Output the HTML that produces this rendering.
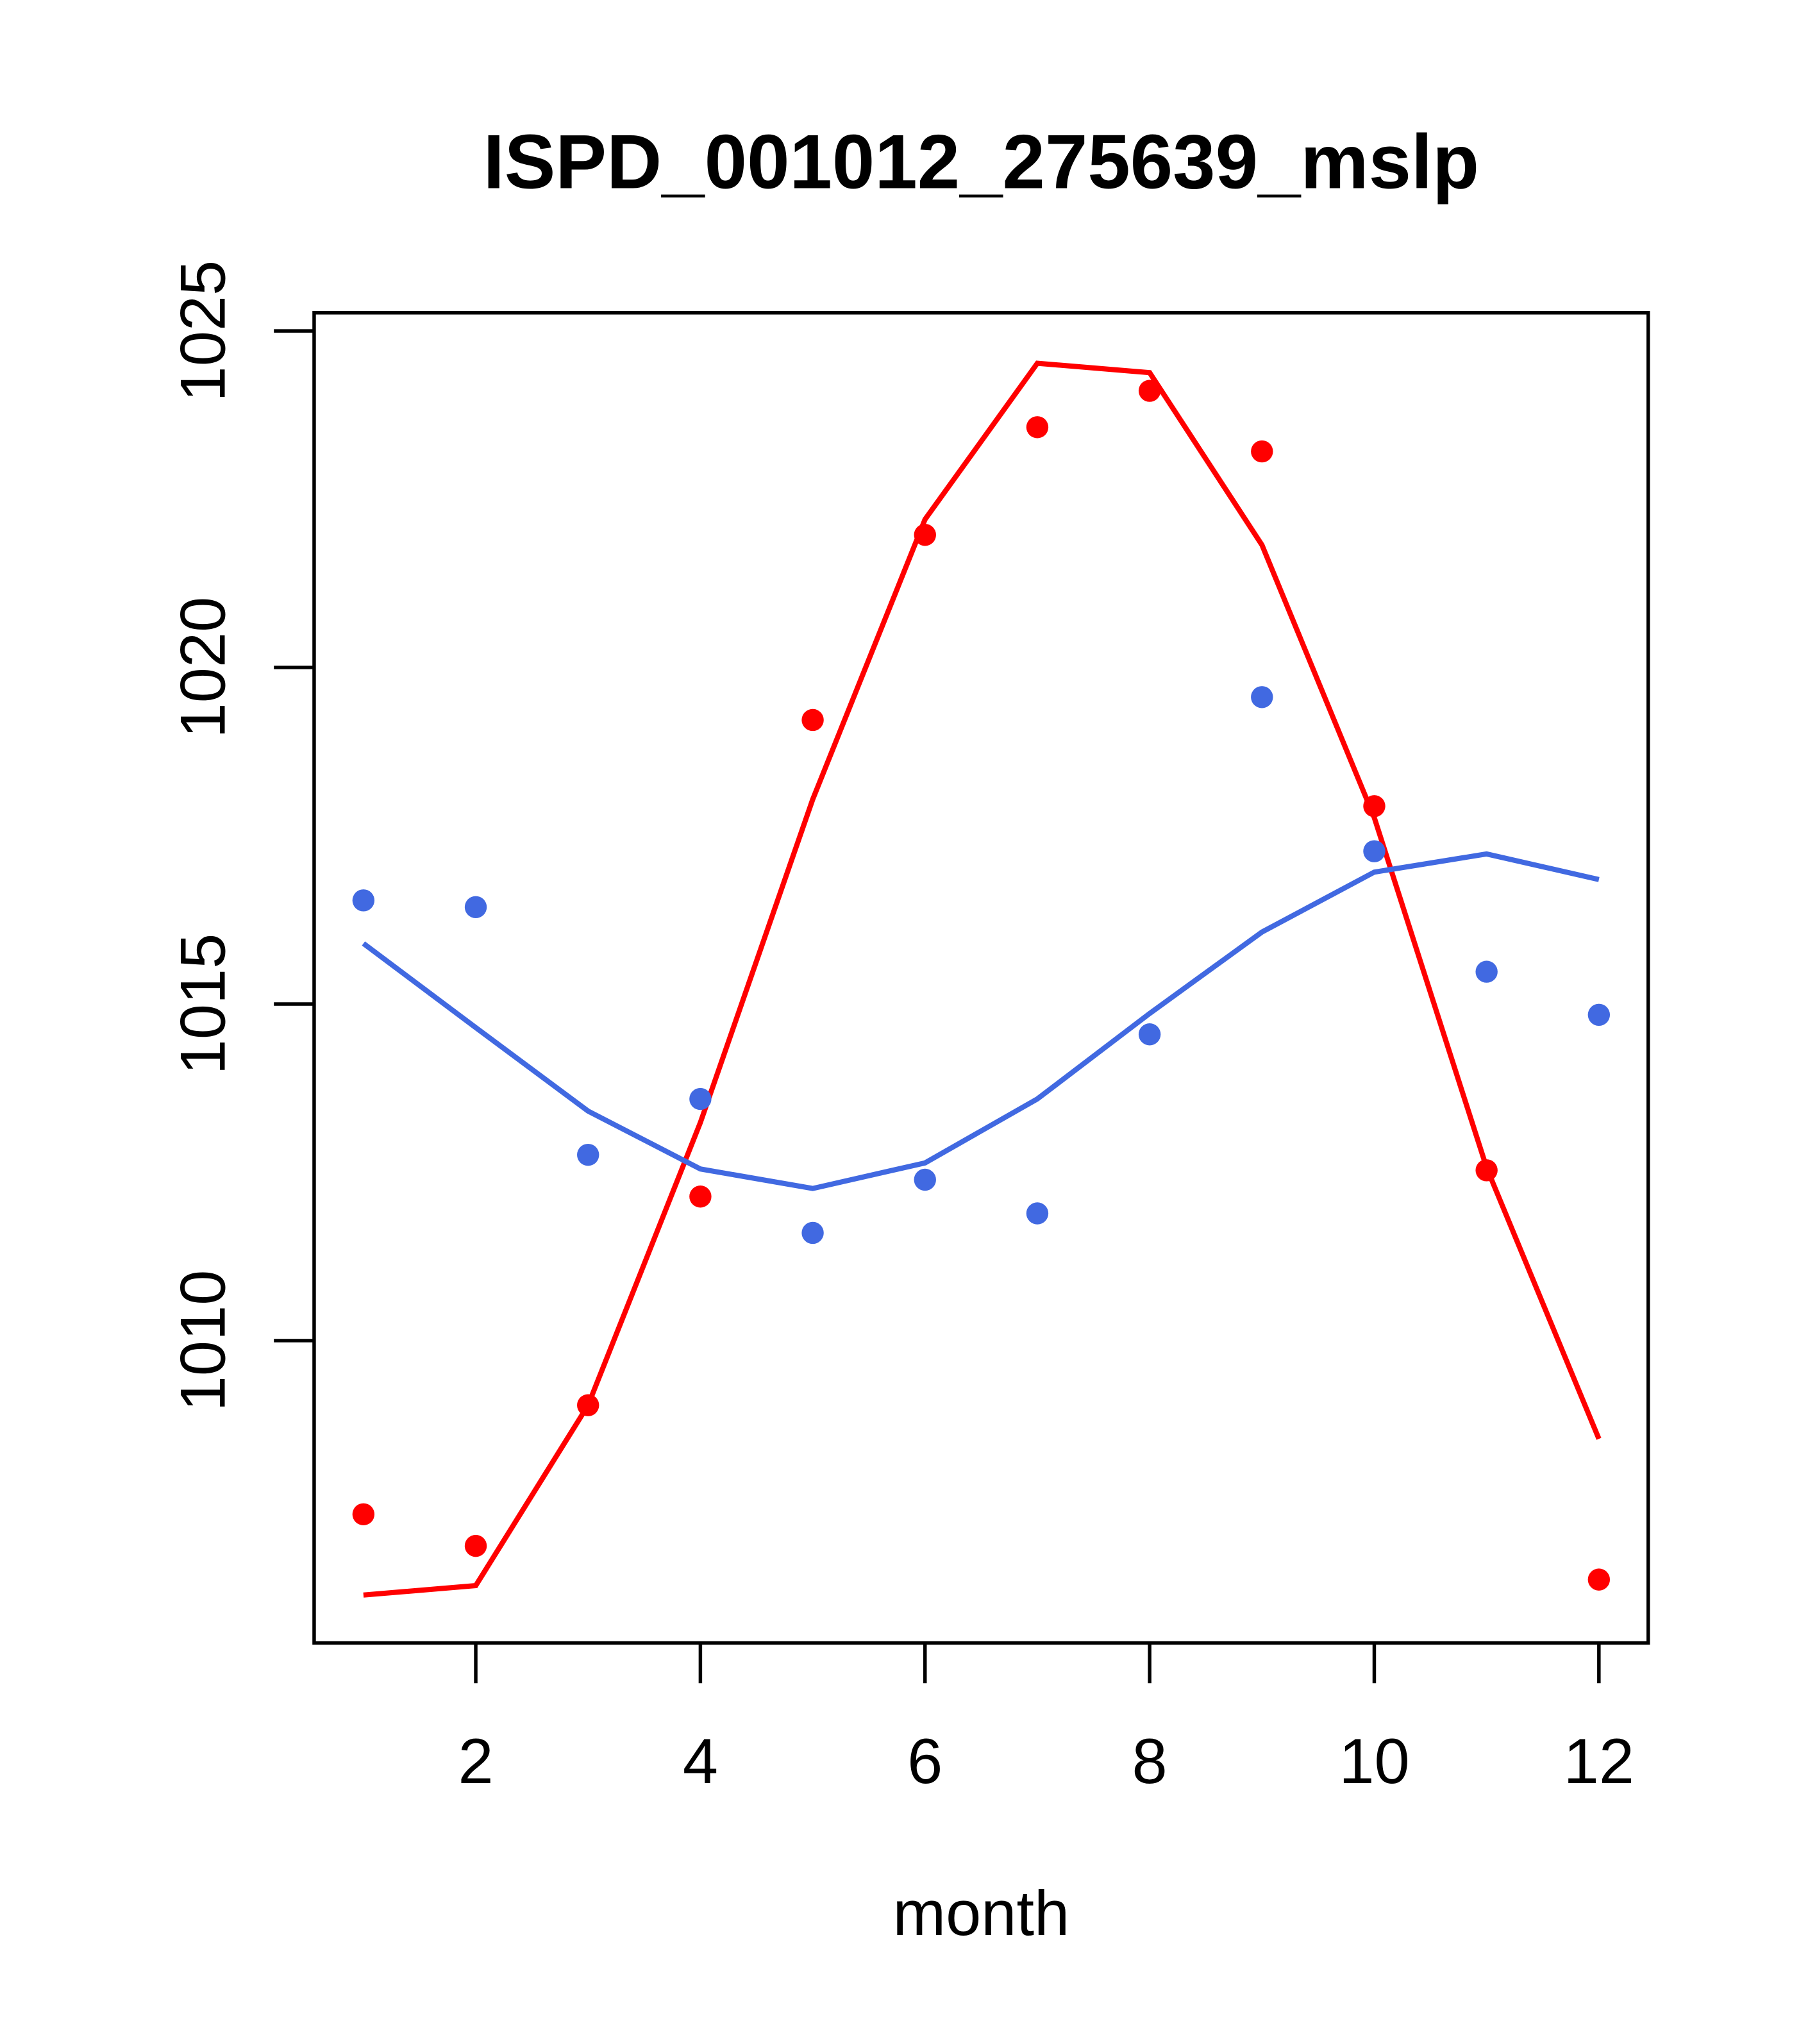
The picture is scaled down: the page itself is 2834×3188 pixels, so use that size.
<!DOCTYPE html>
<html><head><meta charset="utf-8"><style>
html,body{margin:0;padding:0;background:#fff;}
svg{display:block;}
text{font-family:"Liberation Sans",Arial,sans-serif;fill:#000;}
</style></head><body>
<svg id="chart" width="2834" height="3188" viewBox="0 0 1400 1575" xmlns="http://www.w3.org/2000/svg">
<rect width="1400" height="1575" fill="#fff"/>
<text x="756" y="145" font-size="59" font-weight="bold" text-anchor="middle">ISPD_001012_275639_mslp</text>
<text x="756" y="1491" font-size="49" text-anchor="middle">month</text>
<rect x="242" y="241" width="1028" height="1025" fill="none" stroke="#000" stroke-width="2.7"/>
<g id="xaxis"></g>
<g id="yaxis"></g>
<g id="series"></g>
</svg>
<script>
const months = [1,2,3,4,5,6,7,8,9,10,11,12];
const redPoints = [1007.42,1006.95,1009.04,1012.14,1019.22,1021.97,1023.57,1024.11,1023.21,1017.94,1012.53,1006.45];
const redLine = [1006.22,1006.36,1009.04,1013.24,1018.04,1022.20,1024.52,1024.38,1021.82,1017.77,1012.57,1008.54];
const bluePoints = [1016.54,1016.44,1012.76,1013.59,1011.60,1012.39,1011.89,1014.55,1019.56,1017.27,1015.48,1014.84];
const blueLine = [1015.90,1014.65,1013.41,1012.55,1012.26,1012.64,1013.59,1014.86,1016.07,1016.96,1017.23,1016.85];
const xTicks = [2,4,6,8,10,12];
const yTicks = [1010,1015,1020,1025];

const NS = "http://www.w3.org/2000/svg";
function sx(m){ return 280 + (m-1)*(1232-280)/11; }
function sy(v){ return 255 + (1025-v)*(1033-255)/15; }
function mk(tag, attrs, parent){
  const e = document.createElementNS(NS, tag);
  for (const k in attrs) e.setAttribute(k, attrs[k]);
  parent.appendChild(e); return e;
}
const xg = document.getElementById('xaxis');
xTicks.forEach(t=>{
  const l = mk('line',{x1:sx(t),x2:sx(t),y1:1266,y2:1297,stroke:'#000','stroke-width':2.7},xg);
  
  
  const tx = mk('text',{x:sx(t),y:1374,'font-size':49,'text-anchor':'middle'},xg);
  tx.textContent = t;
  
  
});
const yg = document.getElementById('yaxis');
yTicks.forEach(t=>{
  const l = mk('line',{x1:211,x2:242,y1:sy(t),y2:sy(t),stroke:'#000','stroke-width':2.7},yg);
  
  
  const tx = mk('text',{x:0,y:0,'font-size':49,'text-anchor':'middle',transform:`translate(173,${sy(t)}) rotate(-90)`},yg);
  tx.textContent = t;
  
  
});
const sg = document.getElementById('series');
function drawLine(vals, color, name){
  const pts = vals.map((v,i)=>sx(months[i])+','+sy(v)).join(' ');
  const p = mk('polyline',{points:pts,fill:'none',stroke:color,'stroke-width':4},sg);
  
  
}
function drawPts(vals, color, name){
  vals.forEach((v,i)=>{
    const c = mk('circle',{cx:sx(months[i]),cy:sy(v),r:8.5,fill:color},sg);
    
    
  });
}
drawLine(redLine,'#ff0000','red-line');
drawLine(blueLine,'#4169e1','blue-line');
drawPts(redPoints,'#ff0000','red-point');
drawPts(bluePoints,'#4169e1','blue-point');
</script>
</body></html>
